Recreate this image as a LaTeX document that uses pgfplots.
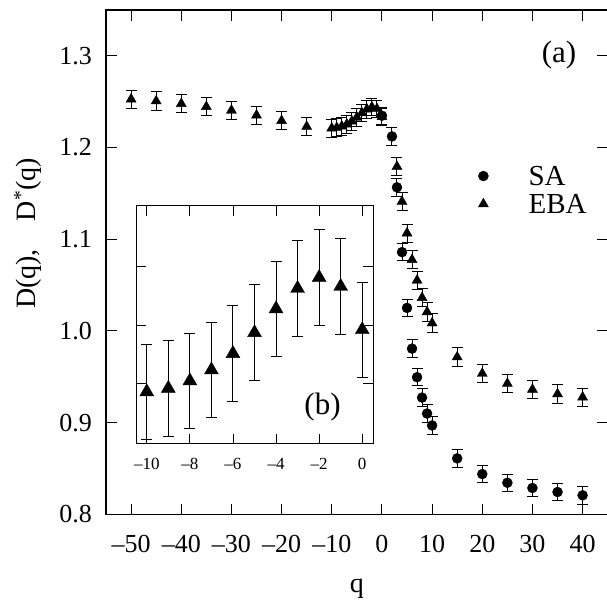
\documentclass[border=0pt]{standalone}
\usepackage{fontspec}
\setmainfont{Liberation Serif}
\newfontfamily\tms{Liberation Serif}
\usepackage{pgfplots}
\pgfplotsset{compat=1.18}

\newcommand{\fs}[1]{\tms\fontsize{#1}{#1}\selectfont}

\pgfplotsset{
  ebar/.style={error bars/y dir=both, error bars/y explicit,
    error bars/error bar style={line width=1pt, black},
    error bars/error mark options={rotate=90, line width=1pt, mark size=5.5pt, black}},
  dotleg/.style={legend image code/.code={\draw[##1] plot coordinates {(0pt,0pt)}; \path (-6pt,0pt) (6pt,0pt);}},
}

\begin{document}
\tms
\begin{tikzpicture}
\begin{axis}[
  at={(0pt,0pt)}, anchor=south west,
  scale only axis, width=501.7pt, height=504.3pt,
  xmin=-55, xmax=45, ymin=0.8, ymax=1.35,
  xtick={-50,-40,...,40},
  xticklabels={\textendash50,\textendash40,\textendash30,\textendash20,\textendash10,0,10,20,30,40},
  ytick={0.8,0.9,1.0,1.1,1.2,1.3},
  yticklabels={0.8,0.9,1.0,1.1,1.2,1.3},
  tick align=inside, major tick length=10.7pt,
  axis line style={line width=1.2pt},
  tick style={line width=1pt, black},
  xticklabel style={font=\fs{26}, inner sep=0pt, anchor=north, yshift=-20.7pt},
  yticklabel style={font=\fs{26}, inner sep=0pt, anchor=east, xshift=-14pt},
  xlabel={q},
  ylabel={D(q),\hspace{1em}D\textsuperscript{*}(q)},
  every axis x label/.style={at={(axis description cs:0.5,0)}, anchor=base, yshift=-77.7pt, font=\fs{28}},
  every axis y label/.style={at={(axis description cs:-0.1555,0.557)}, anchor=center, rotate=90, font=\fs{28}},
  legend style={at={(0.7395,0.643)}, anchor=west, draw=none, fill=none, inner sep=0pt,
    column sep=39pt, row sep=0pt, font=\fs{29},
    nodes={inner sep=0pt, text height=23.5pt, text depth=4.5pt}},
  legend cell align=left,
  reverse legend,
]
% EBA
\addplot[only marks, mark=triangle*, mark size=5.8pt, black, mark options={line width=0.4pt}, ebar, dotleg]
coordinates {
(-50,1.2527) +- (0,0.0100) (-45,1.2507) +- (0,0.0100) (-40,1.2478) +- (0,0.0100)
(-35,1.2445) +- (0,0.0100) (-30,1.2405) +- (0,0.0100) (-25,1.2352) +- (0,0.0100)
(-20,1.2292) +- (0,0.0100) (-15,1.2229) +- (0,0.0100)
(-10,1.2210) +- (0,0.0096) (-9,1.2217) +- (0,0.0096) (-8,1.2232) +- (0,0.0096)
(-7,1.2254) +- (0,0.0096) (-6,1.2287) +- (0,0.0096) (-5,1.2329) +- (0,0.0096)
(-4,1.2377) +- (0,0.0096) (-3,1.2418) +- (0,0.0096) (-2,1.2440) +- (0,0.0096)
(-1,1.2422) +- (0,0.0096) (0,1.2335) +- (0,0.0096)
(3,1.1792) +- (0,0.0100) (4,1.1411) +- (0,0.0100) (5,1.1066) +- (0,0.0100)
(6,1.0776) +- (0,0.0100) (7,1.0551) +- (0,0.0100) (8,1.0362) +- (0,0.0100)
(9,1.0206) +- (0,0.0100) (10,1.0085) +- (0,0.0100)
(15,0.9715) +- (0,0.0100) (20,0.9535) +- (0,0.0100) (25,0.9426) +- (0,0.0100)
(30,0.9361) +- (0,0.0100) (35,0.9312) +- (0,0.0100) (40,0.9277) +- (0,0.0100)
};
\addlegendentry{EBA}
% SA
\addplot[only marks, mark=*, mark size=5pt, black, mark options={line width=0.4pt}, ebar, dotleg]
coordinates {
(0,1.2347) +- (0,0.0095) (2,1.2121) +- (0,0.0095) (3,1.1566) +- (0,0.0095)
(4,1.0859) +- (0,0.0095) (5,1.0251) +- (0,0.0095) (6,0.9807) +- (0,0.0095)
(7,0.9495) +- (0,0.0095) (8,0.9273) +- (0,0.0095) (9,0.9099) +- (0,0.0095)
(10,0.8969) +- (0,0.0095) (15,0.8610) +- (0,0.0095) (20,0.8439) +- (0,0.0095)
(25,0.8344) +- (0,0.0095) (30,0.8287) +- (0,0.0095) (35,0.8243) +- (0,0.0095)
(40,0.8207) +- (0,0.0095)
};
\addlegendentry{SA}
\node[font=\fs{31}, inner sep=0pt] at (rel axis cs:0.903,0.911) {(a)};
\end{axis}

% inset (b)
\begin{axis}[
  at={(30pt,70.3pt)}, anchor=south west,
  scale only axis, width=237pt, height=238pt,
  xmin=-10.5, xmax=0.5, ymin=1.2105, ymax=1.2584,
  xtick={-10,-8,...,0},
  xticklabels={\textendash10,\textendash8,\textendash6,\textendash4,\textendash2,0},
  ytick={1.2226,1.2344,1.2463}, yticklabels={},
  tick align=inside, major tick length=10pt,
  axis line style={line width=1pt},
  tick style={line width=0.9pt, black},
  axis background/.style={fill=white},
  xticklabel style={font=\fs{17}, inner sep=0pt, anchor=north, yshift=-14pt},
]
\addplot[only marks, mark=triangle*, mark size=8pt, black, mark options={line width=0.4pt}, ebar]
coordinates {
(-10,1.2210) +- (0,0.0096) (-9,1.2217) +- (0,0.0096) (-8,1.2232) +- (0,0.0096)
(-7,1.2254) +- (0,0.0096) (-6,1.2287) +- (0,0.0096) (-5,1.2329) +- (0,0.0096)
(-4,1.2377) +- (0,0.0096) (-3,1.2418) +- (0,0.0096) (-2,1.2440) +- (0,0.0096)
(-1,1.2422) +- (0,0.0096) (0,1.2335) +- (0,0.0096)
};
\node[font=\fs{31}, inner sep=0pt] at (rel axis cs:0.787,0.157) {(b)};
\end{axis}
\pgfresetboundingbox
\path (-106pt,-84.7pt) rectangle (501pt,514.3pt);
\end{tikzpicture}
\end{document}
